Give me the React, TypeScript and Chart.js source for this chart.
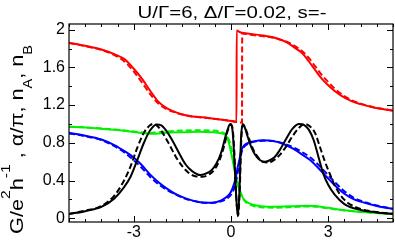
import React, { useEffect, useRef } from 'react';
import { Chart, registerables } from 'chart.js';

Chart.register(...registerables);

// ---- axis / tick data ----
const xMin = -5;
const xMax = 5;
const yMin = -0.04;
const yMax = 2.06;
const xTickValues = [-3, 0, 3];
const xTickLabels = ['-3', '0', '3'];
const yTickValues = [0, 0.4, 0.8, 1.2, 1.6, 2];
const yTickLabels = ['0', '0.4', '0.8', '1.2', '1.6', '2'];
const xMinorStep = 0.5;
const yMinorStep = 0.2;

const titleText = 'U/Γ=6, Δ/Γ=0.02, s=-';

// ---- series data ----
// red (G), solid
const redSolidX = [-5, -4.5, -4, -3.6, -3.3, -3.0, -2.75, -2.5, -2.25, -2.0, -1.75, -1.5, -1.2, -0.8, -0.4, 0, 0.17,
  0.175, 0.3, 0.6, 1.0, 1.3, 1.6, 1.8, 2.0, 2.2, 2.4, 2.6, 2.8, 3.0, 3.2, 3.4, 3.7, 4.0, 4.4, 5.0];
const redSolidY = [1.862, 1.83, 1.79, 1.74, 1.69, 1.585, 1.48, 1.355, 1.24, 1.17, 1.13, 1.10, 1.08, 1.068, 1.05, 1.032, 1.02,
  1.99, 1.97, 1.955, 1.937, 1.92, 1.885, 1.85, 1.80, 1.75, 1.665, 1.57, 1.48, 1.41, 1.35, 1.30, 1.245, 1.21, 1.175, 1.14];
// red, dashed
const redDashX = [-5, -4.5, -4, -3.6, -3.3, -3.0, -2.75, -2.5, -2.25, -2.0, -1.75, -1.5, -1.2, -0.8, -0.4, 0, 0.34,
  0.345, 0.6, 1.0, 1.3, 1.6, 1.8, 2.0, 2.2, 2.4, 2.6, 2.8, 3.0, 3.2, 3.4, 3.7, 4.0, 4.4, 5.0];
const redDashY = [1.86, 1.825, 1.785, 1.73, 1.665, 1.555, 1.44, 1.32, 1.22, 1.16, 1.125, 1.10, 1.08, 1.065, 1.05, 1.033, 1.015,
  1.96, 1.945, 1.93, 1.915, 1.885, 1.86, 1.82, 1.77, 1.70, 1.61, 1.52, 1.445, 1.375, 1.32, 1.255, 1.215, 1.178, 1.14];

// black (conductance), solid
const blackSolidX = [-5, -4.5, -4.0, -3.6, -3.3, -3.1, -2.9, -2.7, -2.5, -2.3, -2.15, -2.0, -1.8, -1.6, -1.4, -1.2, -0.95, -0.8,
  -0.6, -0.45, -0.3, -0.15, -0.05, 0.0, 0.05, 0.1, 0.15, 0.21, 0.26, 0.31, 0.36, 0.42, 0.5, 0.62, 0.75, 0.9, 1.05, 1.2, 1.35,
  1.5, 1.7, 1.9, 2.1, 2.25, 2.4, 2.55, 2.7, 2.85, 3.0, 3.2, 3.5, 4.0, 4.5, 5.0];
const blackSolidY = [0.045, 0.075, 0.12, 0.21, 0.33, 0.44, 0.61, 0.79, 0.93, 0.995, 0.985, 0.93, 0.82, 0.69, 0.57, 0.50, 0.458, 0.47,
  0.51, 0.58, 0.70, 0.89, 0.99, 1.0, 0.92, 0.65, 0.3, 0.02, 0.28, 0.85, 1.0, 0.97, 0.88, 0.76, 0.67, 0.615, 0.60, 0.615, 0.65,
  0.72, 0.84, 0.95, 1.0, 0.99, 0.94, 0.83, 0.65, 0.47, 0.355, 0.25, 0.15, 0.088, 0.062, 0.045];
// black, dashed
const blackDashX = [-5, -4.5, -4.0, -3.6, -3.3, -3.1, -2.9, -2.7, -2.5, -2.4, -2.25, -2.1, -1.9, -1.7, -1.5, -1.3, -1.1, -0.9,
  -0.7, -0.5, -0.35, -0.2, -0.1, 0.0, 0.05, 0.1, 0.15, 0.22, 0.27, 0.32, 0.38, 0.45, 0.55, 0.7, 0.85, 1.0, 1.15, 1.3, 1.5, 1.7,
  1.9, 2.1, 2.28, 2.45, 2.6, 2.75, 2.9, 3.05, 3.2, 3.4, 3.6, 4.0, 4.5, 5.0];
const blackDashY = [0.045, 0.08, 0.13, 0.24, 0.40, 0.55, 0.74, 0.90, 0.985, 1.0, 0.97, 0.90, 0.78, 0.65, 0.55, 0.48, 0.445, 0.44,
  0.46, 0.52, 0.62, 0.78, 0.93, 0.99, 0.95, 0.72, 0.3, 0.03, 0.3, 0.85, 0.99, 0.95, 0.85, 0.72, 0.64, 0.595, 0.59, 0.61, 0.67, 0.76,
  0.87, 0.96, 1.0, 0.97, 0.90, 0.75, 0.60, 0.47, 0.35, 0.235, 0.165, 0.098, 0.065, 0.047];

// blue (n_A), solid
const blueSolidX = [-5, -4.5, -4.0, -3.6, -3.3, -3.1, -2.8, -2.5, -2.2, -2.0, -1.7, -1.4, -1.0, -0.6, -0.3, -0.1, 0.0, 0.1, 0.15,
  0.2, 0.26, 0.32, 0.4, 0.5, 0.7, 1.0, 1.3, 1.6, 1.9, 2.2, 2.45, 2.7, 2.95, 3.2, 3.5, 3.8, 4.0, 4.5, 5.0];
const blueSolidY = [0.906, 0.875, 0.835, 0.776, 0.715, 0.67, 0.58, 0.465, 0.37, 0.32, 0.255, 0.21, 0.172, 0.163, 0.19, 0.235, 0.28,
  0.37, 0.44, 0.53, 0.62, 0.72, 0.77, 0.795, 0.815, 0.828, 0.82, 0.79, 0.74, 0.675, 0.615, 0.53, 0.44, 0.35, 0.26, 0.2, 0.176,
  0.13, 0.10];
// blue, dashed
const blueDashX = [-5, -4.5, -4.0, -3.6, -3.3, -3.1, -2.8, -2.5, -2.2, -2.0, -1.7, -1.4, -1.0, -0.6, -0.3, -0.1, 0.0, 0.1, 0.15,
  0.2, 0.26, 0.32, 0.4, 0.5, 0.7, 1.0, 1.3, 1.6, 1.9, 2.2, 2.45, 2.7, 2.95, 3.2, 3.5, 3.8, 4.0, 4.5, 5.0];
const blueDashY = [0.9, 0.87, 0.83, 0.765, 0.70, 0.645, 0.55, 0.44, 0.35, 0.305, 0.25, 0.205, 0.172, 0.162, 0.18, 0.215, 0.25,
  0.32, 0.39, 0.47, 0.58, 0.69, 0.755, 0.785, 0.81, 0.822, 0.818, 0.795, 0.755, 0.70, 0.645, 0.565, 0.475, 0.385, 0.285, 0.215,
  0.185, 0.135, 0.10];

// green (n_B), solid
const greenSolidX = [-5, -4.5, -4.0, -3.5, -3.0, -2.7, -2.5, -2.3, -2.0, -1.5, -1.0, -0.6, -0.3, -0.15, -0.05, 0.0, 0.05, 0.1,
  0.15, 0.2, 0.26, 0.33, 0.41, 0.55, 0.72, 1.0, 1.4, 1.9, 2.3, 2.6, 3.0, 3.5, 4.0, 4.5, 5.0];
const greenSolidY = [0.97, 0.962, 0.95, 0.935, 0.915, 0.9, 0.895, 0.897, 0.906, 0.912, 0.916, 0.912, 0.9, 0.875, 0.78, 0.7, 0.617,
  0.53, 0.44, 0.37, 0.3, 0.24, 0.194, 0.16, 0.14, 0.125, 0.123, 0.128, 0.133, 0.13, 0.11, 0.085, 0.068, 0.055, 0.045];
// green, dashed
const greenDashX = [-5, -4.5, -4.0, -3.5, -3.0, -2.7, -2.5, -2.3, -2.0, -1.5, -1.0, -0.6, -0.3, -0.15, -0.05, 0.0, 0.05, 0.1,
  0.15, 0.2, 0.26, 0.33, 0.41, 0.55, 0.72, 1.0, 1.4, 1.9, 2.3, 2.6, 3.0, 3.5, 4.0, 4.5, 5.0];
const greenDashY = [0.97, 0.963, 0.952, 0.938, 0.92, 0.91, 0.905, 0.91, 0.92, 0.93, 0.932, 0.93, 0.915, 0.885, 0.82, 0.76, 0.67,
  0.56, 0.47, 0.39, 0.31, 0.245, 0.19, 0.15, 0.128, 0.115, 0.112, 0.118, 0.124, 0.123, 0.105, 0.083, 0.067, 0.055, 0.045];

const FONT = '"Liberation Sans", Arial, Helvetica, sans-serif';

const pts = (xs: number[], ys: number[]) => xs.map((x, i) => ({ x, y: ys[i] }));

const line = (xs: number[], ys: number[], color: string, dashed: boolean) => ({
  data: pts(xs, ys),
  borderColor: color,
  backgroundColor: color,
  borderWidth: 2,
  borderDash: dashed ? [6, 3] : [],
  pointRadius: 0,
  fill: false,
  cubicInterpolationMode: 'monotone' as const,
});

type Seg = { text: string; size: number; dy: number };

function drawRich(ctx: CanvasRenderingContext2D, segs: Seg[], cx: number, baseY: number, targetWidth: number) {
  let total = 0;
  const widths = segs.map((s) => {
    ctx.font = `${s.size}px ${FONT}`;
    const w = ctx.measureText(s.text).width;
    total += w;
    return w;
  });
  const sx = targetWidth / total;
  ctx.save();
  ctx.translate(cx - targetWidth / 2, baseY);
  ctx.scale(sx, 1);
  ctx.fillStyle = '#000';
  ctx.textAlign = 'left';
  ctx.textBaseline = 'alphabetic';
  let x = 0;
  segs.forEach((s, i) => {
    ctx.font = `${s.size}px ${FONT}`;
    ctx.fillText(s.text, x, s.dy);
    x += widths[i];
  });
  ctx.restore();
}

const framePlugin = {
  id: 'framePlugin',
  afterDraw(chart: any) {
    const ctx: CanvasRenderingContext2D = chart.ctx;
    const { left, right, top, bottom } = chart.chartArea;
    const xs = chart.scales.x;
    const ys = chart.scales.y;
    ctx.save();
    ctx.strokeStyle = '#000';
    ctx.lineWidth = 1.2;
    ctx.strokeRect(left, top, right - left, bottom - top);
    ctx.lineWidth = 1;
    ctx.beginPath();
    for (let v = xMin; v <= xMax + 1e-9; v += xMinorStep) {
      const major = xTickValues.some((t) => Math.abs(t - v) < 1e-9);
      const len = major ? 6 : 3;
      const px = Math.round(xs.getPixelForValue(v)) + 0.5;
      ctx.moveTo(px, bottom);
      ctx.lineTo(px, bottom - len);
      ctx.moveTo(px, top);
      ctx.lineTo(px, top + len);
    }
    for (let v = 0; v <= 2 + 1e-9; v += yMinorStep) {
      const major = yTickValues.some((t) => Math.abs(t - v) < 1e-9);
      const len = major ? 6 : 3;
      const py = Math.round(ys.getPixelForValue(v)) + 0.5;
      ctx.moveTo(left, py);
      ctx.lineTo(left + len, py);
      ctx.moveTo(right, py);
      ctx.lineTo(right - len, py);
    }
    ctx.stroke();

    // title
    drawRich(ctx, [{ text: titleText, size: 17, dy: 0 }], 232, 17.5, 189);

    // y axis label (rotated)
    ctx.save();
    ctx.translate(22.5, 139.5);
    ctx.rotate(-Math.PI / 2);
    drawRich(
      ctx,
      [
        { text: 'G/e', size: 18, dy: 0 },
        { text: '2', size: 13, dy: -13 },
        { text: 'h', size: 18, dy: 0 },
        { text: '-1', size: 13, dy: -13 },
        { text: ' , α/π, n', size: 18, dy: 0 },
        { text: 'A', size: 12, dy: 9 },
        { text: ', n', size: 18, dy: 0 },
        { text: 'B', size: 12, dy: 9 },
      ],
      0,
      0,
      189
    );
    ctx.restore();
    ctx.restore();
  },
};

export default function App() {
  const canvasRef = useRef<HTMLCanvasElement | null>(null);

  useEffect(() => {
    document.body.style.margin = '0';
    const canvas = canvasRef.current;
    if (!canvas) return;
    const chart = new Chart(canvas, {
      type: 'line',
      data: {
        datasets: [
          line(blackSolidX, blackSolidY, '#000000', false),
          line(blackDashX, blackDashY, '#000000', true),
          line(blueSolidX, blueSolidY, '#0000ff', false),
          line(blueDashX, blueDashY, '#0000ff', true),
          line(greenSolidX, greenSolidY, '#00f000', false),
          line(greenDashX, greenDashY, '#00f000', true),
          line(redSolidX, redSolidY, '#ff0000', false),
          line(redDashX, redDashY, '#ff0000', true),
        ] as any,
      },
      options: {
        animation: false,
        responsive: false,
        devicePixelRatio: 1,
        layout: { padding: { left: 0, top: 24, right: 2, bottom: 0 } },
        plugins: {
          legend: { display: false },
          tooltip: { enabled: false },
          title: { display: false },
        },
        scales: {
          x: {
            type: 'linear',
            min: xMin,
            max: xMax,
            grid: { display: false, drawTicks: false },
            border: { display: false },
            afterFit: (s: any) => {
              s.height = 18;
            },
            afterBuildTicks: (s: any) => {
              s.ticks = xTickValues.map((v) => ({ value: v }));
            },
            ticks: {
              padding: 1,
              maxRotation: 0,
              autoSkip: false,
              color: '#000',
              font: { family: FONT, size: 16 },
              callback: (v: any) => {
                const i = xTickValues.findIndex((t) => Math.abs(t - Number(v)) < 1e-9);
                return i >= 0 ? xTickLabels[i] : '';
              },
            },
          },
          y: {
            type: 'linear',
            min: yMin,
            max: yMax,
            grid: { display: false, drawTicks: false },
            border: { display: false },
            afterFit: (s: any) => {
              s.width = 69;
            },
            afterBuildTicks: (s: any) => {
              s.ticks = yTickValues.map((v) => ({ value: v }));
            },
            ticks: {
              padding: 4,
              autoSkip: false,
              color: '#000',
              font: { family: FONT, size: 16 },
              callback: (v: any) => {
                const i = yTickValues.findIndex((t) => Math.abs(t - Number(v)) < 1e-9);
                return i >= 0 ? yTickLabels[i] : '';
              },
            },
          },
        },
      } as any,
      plugins: [framePlugin],
    });
    return () => chart.destroy();
  }, []);

  return (
    <div style={{ position: 'fixed', left: 0, top: 0, width: 395, height: 240, background: '#fff' }}>
      <canvas ref={canvasRef} width={395} height={240} style={{ display: 'block' }} />
    </div>
  );
}
